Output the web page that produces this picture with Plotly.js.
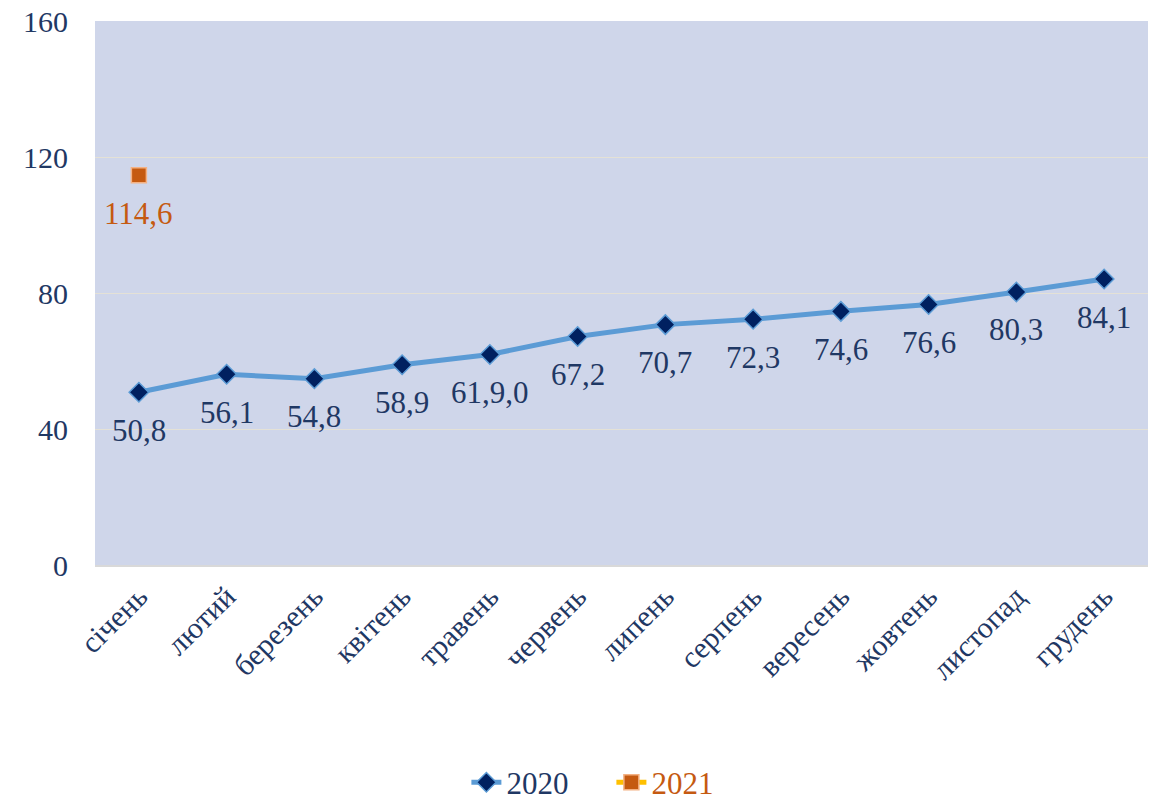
<!DOCTYPE html>
<html><head><meta charset="utf-8">
<script src="https://cdn.plot.ly/plotly-3.0.1.min.js"></script>
<style>html,body{margin:0;padding:0;background:#fff}#c{width:1163px;height:801px}</style>
</head><body><div id="c"></div>
<script>
const months = ["січень","лютий","березень","квітень","травень","червень","липень","серпень","вересень","жовтень","листопад","грудень"];
const values2020 = [50.8,56.1,54.8,58.9,61.9,67.2,70.7,72.3,74.6,76.6,80.3,84.1];
const labels2020 = ["50,8","56,1","54,8","58,9","61,9,0","67,2","70,7","72,3","74,6","76,6","80,3","84,1"];
const months2021 = ["січень"];
const values2021 = [114.6];
const labels2021 = ["114,6"];
const yTicks = [0,40,80,120,160];

const navy = "#1F3864";
const orange = "#C55A11";
const font = 'Liberation Serif';

const traces = [
  {x: months, y: values2020, name: "2020", type: "scatter", mode: "lines+markers",
   line: {color: "#5B9BD5", width: 5},
   marker: {symbol: "diamond", size: 15, color: "#002060", line: {color: "#5B9BD5", width: 1.5}}},
  {x: months2021, y: values2021, name: "2021", type: "scatter", mode: "lines+markers",
   line: {color: "#FFC000", width: 5},
   marker: {symbol: "square", size: 15, color: orange, line: {color: "#F4B183", width: 1.5}}}
];

const annotations = [];
months.forEach((m,i)=>annotations.push({x:m, y:values2020[i], text:labels2020[i], showarrow:false, yshift:-38, font:{family:font,size:31,color:navy}}));
months2021.forEach((m,i)=>annotations.push({x:m, y:values2021[i], text:labels2021[i], showarrow:false, yshift:-38, font:{family:font,size:31,color:orange}}));

const layout = {
  width: 1163, height: 801,
  margin: {l: 95, r: 15, t: 21, b: 236, autoexpand: false},
  paper_bgcolor: "#ffffff",
  plot_bgcolor: "#CFD6EA",
  showlegend: true,
  legend: {orientation: "h", x: 0.3527, xanchor: "left", y: -0.4, yanchor: "middle",
           entrywidth: 100,
           font: {family: font, size: 31, color: navy}},
  xaxis: {type: "category", categoryorder: "array", categoryarray: months, range: [-0.5, 11.5],
          tickangle: -45, showgrid: false, ticks: "", showline: true, linecolor: "#D9D9D9", linewidth: 2,
          automargin: false,
          tickfont: {family: font, size: 30, color: navy}, fixedrange: true},
  yaxis: {range: [0, 160], tickvals: yTicks, ticktext: yTicks.map(String), showgrid: true,
          gridcolor: "#E4E1D6", gridwidth: 1, zeroline: false, showline: false, ticks: "",
          ticklabelstandoff: 26, automargin: false,
          tickfont: {family: font, size: 30, color: navy}},
  annotations: annotations
};

Plotly.newPlot("c", traces, layout, {displayModeBar: false, staticPlot: true}).then(()=>{
  const texts = document.querySelectorAll(".legendtext");
  if (texts[1]) texts[1].style.fill = orange;
});
</script></body></html>
